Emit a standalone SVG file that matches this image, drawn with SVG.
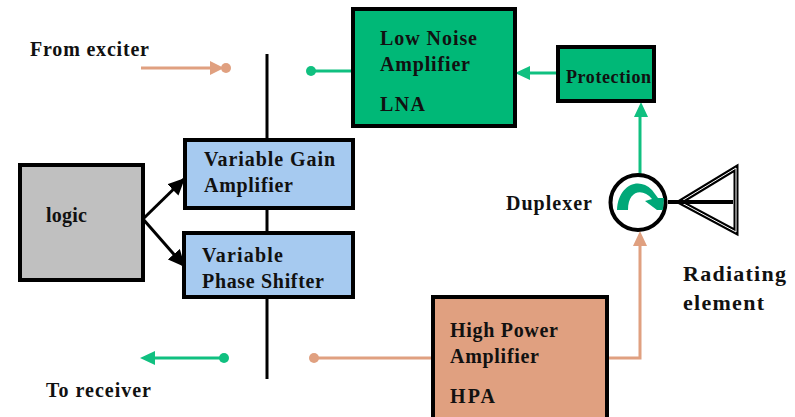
<svg xmlns="http://www.w3.org/2000/svg" width="795" height="417" viewBox="0 0 795 417">
<style>
text{font-family:"Liberation Serif","Times New Roman",serif;font-weight:bold;font-size:20px;fill:#111}
.box{stroke:#000;stroke-width:4}
.g{stroke:#10c080;fill:none;stroke-width:3}
.o{stroke:#e0a080;fill:none;stroke-width:3}
.k{stroke:#000;fill:none;stroke-width:3}
</style>
<defs>
<marker id="ak" markerUnits="userSpaceOnUse" markerWidth="18" markerHeight="16" refX="17" refY="8" orient="auto"><path d="M0 0L17 8L0 16Z" fill="#000"/></marker>
</defs>
<rect width="795" height="417" fill="#fff"/>
<g id="connectors">
<path class="k" d="M267 54V379"/>
<path class="k" d="M143 219L185 178" marker-end="url(#ak)"/>
<path class="k" d="M143 219L185 267" marker-end="url(#ak)"/>
<path class="o" d="M141 68H212"/><path d="M210 61L224 68L210 75Z" fill="#e0a080"/><circle cx="226" cy="68" r="5" fill="#e0a080"/>
<path class="g" d="M311 71H353"/><circle cx="311" cy="71" r="5" fill="#10c080"/>
<path class="g" d="M558 73H530"/><path d="M515 73L530 66V80Z" fill="#10c080"/>
<path class="g" d="M640 174V116"/><path d="M641 102L634 117H648Z" fill="#10c080"/>
<path class="o" d="M608 358H640V245"/><path d="M640 231L633 246H647Z" fill="#e0a080"/>
<path class="o" d="M314 358H433"/><circle cx="314" cy="358" r="5" fill="#e0a080"/>
<path class="g" d="M224 358H155"/><path d="M140 358L155 351V365Z" fill="#10c080"/><circle cx="224" cy="358" r="5" fill="#10c080"/>
</g>
<g id="lna"><rect class="box" x="353" y="9" width="162" height="117" fill="#00b877"/><text x="380" y="45" textLength="97">Low Noise</text><text x="380" y="71" textLength="90">Amplifier</text><text x="380" y="111" textLength="45">LNA</text></g>
<g id="protection"><rect class="box" x="558" y="47" width="96" height="54" fill="#00b877"/><text x="566" y="83" textLength="85" style="font-size:18px">Protection</text></g>
<g id="vga"><rect class="box" x="185" y="140" width="168" height="68" fill="#a6caf0"/><text x="204" y="166" textLength="131">Variable Gain</text><text x="204" y="192" textLength="89">Amplifier</text></g>
<g id="vps"><rect class="box" x="184" y="233" width="169" height="64" fill="#a6caf0"/><text x="202" y="262" textLength="81">Variable</text><text x="202" y="288" textLength="122">Phase Shifter</text></g>
<g id="logic"><rect class="box" x="20" y="165" width="123" height="115" fill="#c0c0c0"/><text x="46" y="222" textLength="41">logic</text></g>
<g id="hpa"><rect class="box" x="433" y="297" width="174" height="122" fill="#e0a080"/><text x="450" y="337" textLength="108">High Power</text><text x="450" y="363" textLength="89">Amplifier</text><text x="450" y="403" textLength="45">HPA</text></g>
<g id="duplexer"><circle cx="638" cy="202.500" r="27.500" fill="#fff" stroke="#000" stroke-width="4"/>
<path d="M617 210C618 186 638 176 652 190L658 198L664 198L663 210H657L645 201L652 199C643 188 628 190 628 210Z" fill="#00a878"/>
<text x="506" y="210" textLength="86">Duplexer</text></g>
<g id="antenna"><path d="M680 202L736 168V232Z" fill="none" stroke="#000" stroke-width="5"/><path d="M680 202L736 168V232Z" fill="none" stroke="#fff" stroke-width="1"/><path d="M668 202H733" class="k" style="stroke-width:4"/></g>
<g id="labels"><text x="30" y="56" textLength="119">From exciter</text><text x="46" y="397" textLength="105">To receiver</text><text x="683" y="281" textLength="103" style="font-size:22px">Radiating</text><text x="683" y="310" textLength="81" style="font-size:22px">element</text></g>
</svg>
